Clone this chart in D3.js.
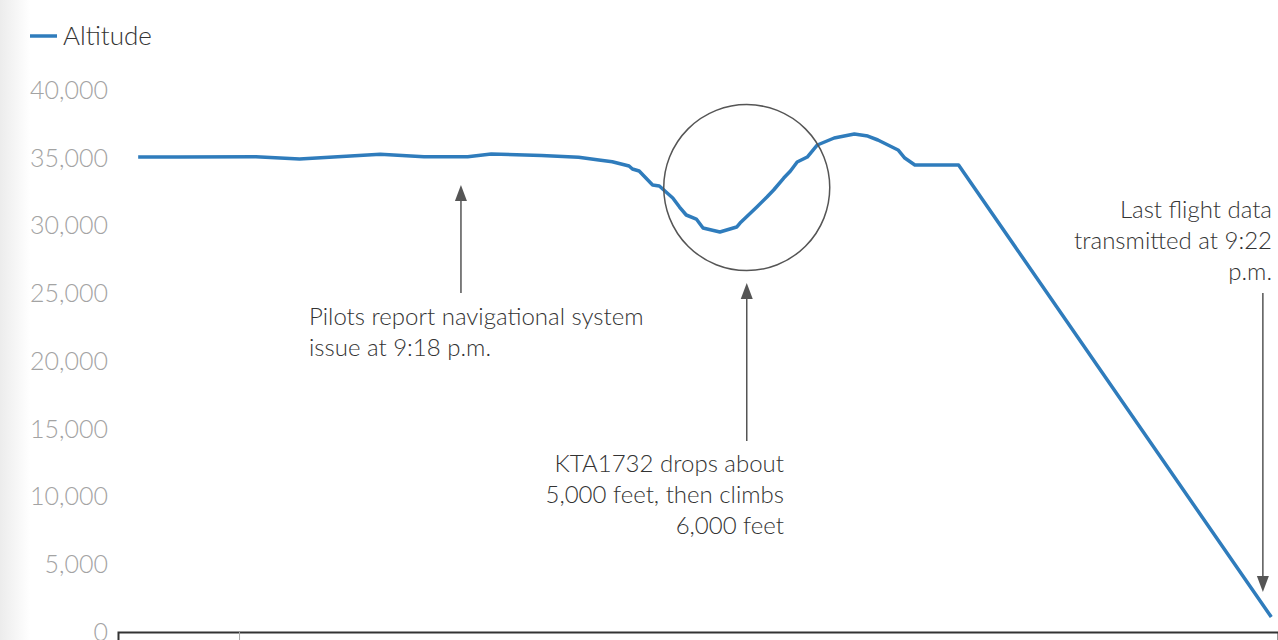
<!DOCTYPE html>
<html>
<head>
<meta charset="utf-8">
<script src="https://cdn.jsdelivr.net/npm/d3@7"></script>
<style>
  html, body { margin: 0; padding: 0; background: #fff; }
  svg { display: block; font-family: Lato, "Open Sans", sans-serif; font-weight: 300; }
</style>
</head>
<body>
<div id="chart"></div>
<script>
// seconds after 9:16 p.m. and altitude in feet
const times = [24, 36, 59, 72, 96, 109, 122, 129, 144, 155, 161, 165, 170, 171, 173, 177, 179, 183, 185, 187, 190, 192, 197, 202, 203, 208, 211, 213, 216, 218, 220, 223, 226, 231, 237, 241, 244, 250, 252, 255, 268, 361];
const altitude = [35055, 35055, 35077, 34907, 35255, 35077, 35077, 35276, 35166, 35033, 34834, 34708, 34391, 34169, 34022, 32989, 32915, 32029, 31365, 30775, 30479, 29815, 29520, 29889, 30184, 31365, 32103, 32620, 33505, 34022, 34686, 35055, 35941, 36457, 36752, 36605, 36310, 35572, 34981, 34465, 34465, 1107];
const yTicks = [0, 5000, 10000, 15000, 20000, 25000, 30000, 35000, 40000];
const xTicks = [54];

// annotations: time position, text lines
const noteTimes = [120, 205, 358.5];
const noteLines = [
  ["Pilots report navigational system", "issue at 9:18 p.m."],
  ["KTA1732 drops about", "5,000 feet, then climbs", "6,000 feet"],
  ["Last flight data", "transmitted at 9:22", "p.m."]
];

const W = 1278, H = 640;
const svg = d3.select("#chart").append("svg").attr("width", W).attr("height", H);

// faint grey band at the left edge
const grad = svg.append("defs").append("linearGradient").attr("id", "edge");
grad.append("stop").attr("offset", "0%").attr("stop-color", "#ececec");
grad.append("stop").attr("offset", "100%").attr("stop-color", "#fff");
svg.append("rect").attr("width", 30).attr("height", H).attr("fill", "url(#edge)");

const x = d3.scaleLinear().domain([18, 363]).range([118, 1278]);
const y = d3.scaleLinear().domain([0, 40000]).range([632, 90]);

// y labels
svg.append("g")
  .selectAll("text")
  .data(yTicks)
  .join("text")
  .attr("x", 108)
  .attr("y", d => y(d))
  .attr("dy", "0.35em")
  .attr("text-anchor", "end")
  .style("font-size", "25px")
  .style("fill", "#a3a3a3")
  .text(d => d3.format(",")(d));

// x axis
const xAxis = svg.append("g").attr("transform", `translate(0,${y(0)})`)
  .call(d3.axisBottom(x).tickValues(xTicks).tickSize(8).tickFormat(""));
xAxis.select(".domain").attr("stroke", "#333").attr("stroke-width", 2);
xAxis.selectAll(".tick line").attr("stroke", "#aaa");

// altitude line
const pts = times.map((t, i) => [t, altitude[i]]);
svg.append("path")
  .datum(pts)
  .attr("fill", "none")
  .attr("stroke", "#2f7cbc")
  .attr("stroke-width", 3.5)
  .attr("stroke-linejoin", "round")
  .attr("d", d3.line().x(d => x(d[0])).y(d => y(d[1])));

// legend
svg.append("line").attr("x1", 30).attr("x2", 57).attr("y1", 36).attr("y2", 36)
  .attr("stroke", "#2f7cbc").attr("stroke-width", 3.5);
svg.append("text").attr("x", 63).attr("y", 45)
  .style("font-size", "26px").style("fill", "#333").text("Altitude");

// arrows
const ink = "#555";
function arrow(xp, yFrom, yTo) {
  const dir = yTo > yFrom ? 1 : -1;
  svg.append("line").attr("x1", xp).attr("x2", xp)
    .attr("y1", yFrom).attr("y2", yTo - dir * 14)
    .attr("stroke", ink).attr("stroke-width", 1.5);
  svg.append("path")
    .attr("d", `M${xp - 6},${yTo - dir * 16}L${xp + 6},${yTo - dir * 16}L${xp},${yTo}Z`)
    .attr("fill", ink);
}
arrow(x(noteTimes[0]), 293, 185);
arrow(x(noteTimes[1]), 441, 283);
arrow(x(noteTimes[2]), 293, 592);

// circle around the dip
svg.append("circle")
  .attr("cx", x(noteTimes[1])).attr("cy", y(32800))
  .attr("r", 83)
  .attr("fill", "none").attr("stroke", ink).attr("stroke-width", 1.5);

// annotation text
function note(lines, xp, y0, anchor) {
  svg.append("text")
    .attr("text-anchor", anchor)
    .style("font-size", "24px").style("fill", "#333")
    .selectAll("tspan")
    .data(lines)
    .join("tspan")
    .attr("x", xp)
    .attr("y", (d, i) => y0 + i * 31)
    .text(d => d);
}
note(noteLines[0], 309, 325, "start");
note(noteLines[1], 784, 472, "end");
note(noteLines[2], 1272, 218, "end");
</script>
</body>
</html>
